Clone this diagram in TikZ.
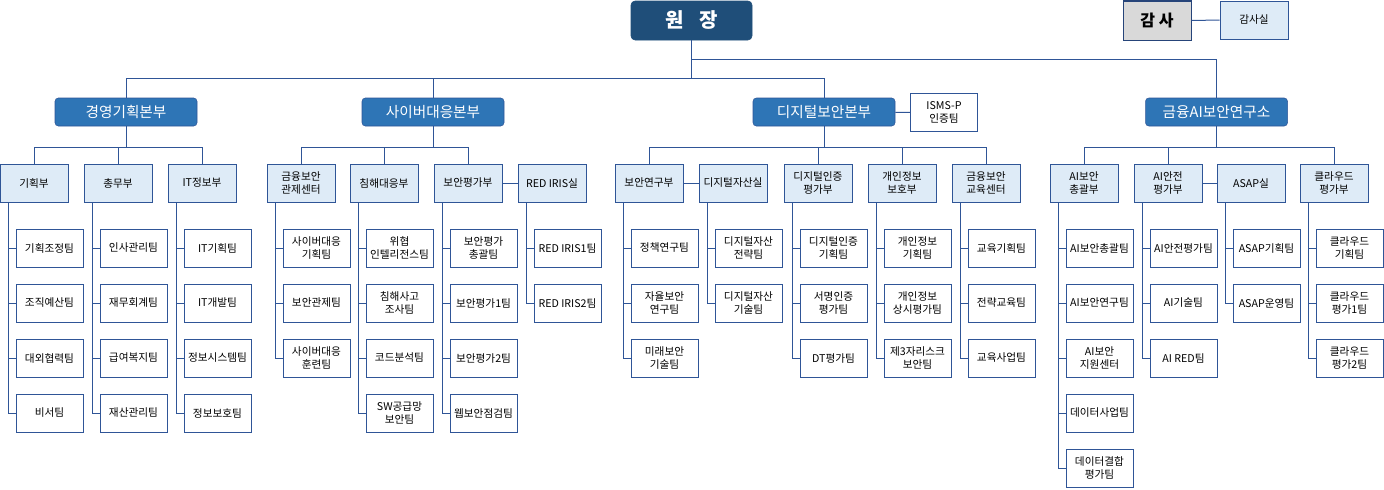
\documentclass[tikz,border=0pt]{standalone}
\usepackage{fontspec}
\setmainfont{Noto Sans CJK KR}
\definecolor{navy}{HTML}{1F4E79}
\definecolor{hq}{HTML}{2E75B6}
\definecolor{lb}{HTML}{DEEBF7}
\definecolor{ln}{HTML}{2F5597}
\tikzset{
  ln/.style={draw=ln,line width=0.75pt},
  top/.style={fill=navy,draw=navy,rounded corners=3pt,text=white,font=\fontsize{15}{16}\selectfont\bfseries,minimum width=90.75pt,minimum height=29.25pt,inner sep=0pt},
  hq/.style={fill=hq,draw=ln,rounded corners=2.5pt,text=white,font=\fontsize{11}{12}\selectfont,minimum width=106.5pt,minimum height=21pt,inner sep=0pt},
  mid/.style={fill=lb,draw=ln,line width=0.75pt,font=\fontsize{8}{9.5}\selectfont,align=center,minimum width=51pt,minimum height=28.5pt,inner sep=0pt},
  sub/.style={fill=white,draw=ln,line width=0.75pt,font=\fontsize{8}{9.5}\selectfont,align=center,minimum width=50.25pt,minimum height=28.5pt,inner sep=0pt},
}
\newcommand\grp[4]{%
  \node[mid] (#1) at (#2+34,183) {#3};
  \foreach \t [count=\i] in {#4} {
    \node[sub] (#1-\i) at (#2+49.5,193+55*\i) {\t};
    \draw[ln] ([xshift=6.75pt]#1.south west) |- (#1-\i.west);
  }}
\begin{document}
\begin{tikzpicture}[x=0.75pt,y=-0.75pt]
\useasboundingbox (0,0) rectangle (1384,489);
% top
\node[top] (ceo) at (691.5,20.5) {원\hspace{0.8em}장};
\node[fill=black!15,draw=ln!80!black,line width=0.75pt,minimum width=51pt,minimum height=29.25pt,inner sep=0pt,font=\fontsize{12}{13}\selectfont\bfseries] (aud) at (1157,20.5) {감 사};
\node[mid] (audo) at (1254,20) {감사실};
\draw[ln] (aud) -- (audo);
% HQs
\node[hq] (h1) at (126,112) {경영기획본부};
\node[hq] (h2) at (433,112) {사이버대응본부};
\node[hq] (h3) at (824,112) {디지털보안본부};
\node[hq] (h4) at (1216.5,112) {금융AI보안연구소};
\node[sub] (isms) at (944,112.5) {ISMS-P\\인증팀};
\draw[ln] (h3) -- (isms);
\coordinate (j1) at (691.5,78);
\coordinate (j2) at (691.5,59);
\draw[ln] (ceo.south) -- (j1);
\draw[ln] (j1) -| (h1.north);
\draw[ln] (j1) -| (h2.north);
\draw[ln] (j1) -| (h3.north);
\draw[ln] (j2) -| (h4.north);
% groups
\grp{a1}{0}{기획부}{기획조정팀,조직예산팀,대외협력팀,비서팀}
\grp{a2}{84}{총무부}{인사관리팀,재무회계팀,급여복지팀,재산관리팀}
\grp{a3}{168}{IT정보부}{IT기획팀,IT개발팀,정보시스템팀,정보보호팀}
\grp{b1}{267}{금융보안\\관제센터}{{사이버대응\\기획팀},보안관제팀,{사이버대응\\훈련팀}}
\grp{b2}{350}{침해대응부}{{위협\\인텔리전스팀},{침해사고\\조사팀},코드분석팀,{SW공급망\\보안팀}}
\grp{b3}{434}{보안평가부}{{보안평가\\총괄팀},보안평가1팀,보안평가2팀,웹보안점검팀}
\grp{b4}{518}{RED IRIS실}{RED IRIS1팀,RED IRIS2팀}
\grp{c1}{615}{보안연구부}{정책연구팀,{자율보안\\연구팀},{미래보안\\기술팀}}
\grp{c2}{699}{디지털자산실}{{디지털자산\\전략팀},{디지털자산\\기술팀}}
\grp{c3}{784}{디지털인증\\평가부}{{디지털인증\\기획팀},{서명인증\\평가팀},DT평가팀}
\grp{c4}{868}{개인정보\\보호부}{{개인정보\\기획팀},{개인정보\\상시평가팀},{제3자리스크\\보안팀}}
\grp{c5}{952}{금융보안\\교육센터}{교육기획팀,전략교육팀,교육사업팀}
\grp{d1}{1050}{AI보안\\총괄부}{AI보안총괄팀,AI보안연구팀,{AI보안\\지원센터},데이터사업팀,{데이터결합\\평가팀}}
\grp{d2}{1134}{AI안전\\평가부}{AI안전평가팀,AI기술팀,AI RED팀}
\grp{d3}{1217}{ASAP실}{ASAP기획팀,ASAP운영팀}
\grp{d4}{1300}{클라우드\\평가부}{{클라우드\\기획팀},{클라우드\\평가1팀},{클라우드\\평가2팀}}
% HQ to departments
\foreach \h/\list in {h1/{a1,a2,a3},h2/{b1,b2,b3},h3/{c1,c3,c4,c5},h4/{d1,d2,d4}}{
  \foreach \d in \list { \draw[ln] (\h.south) -- ++(0,21) -| (\d.north); }
}
\draw[ln] (b3) -- (b4);
\draw[ln] (c1) -- (c2);
\draw[ln] (d2) -- (d3);
\end{tikzpicture}
\end{document}
